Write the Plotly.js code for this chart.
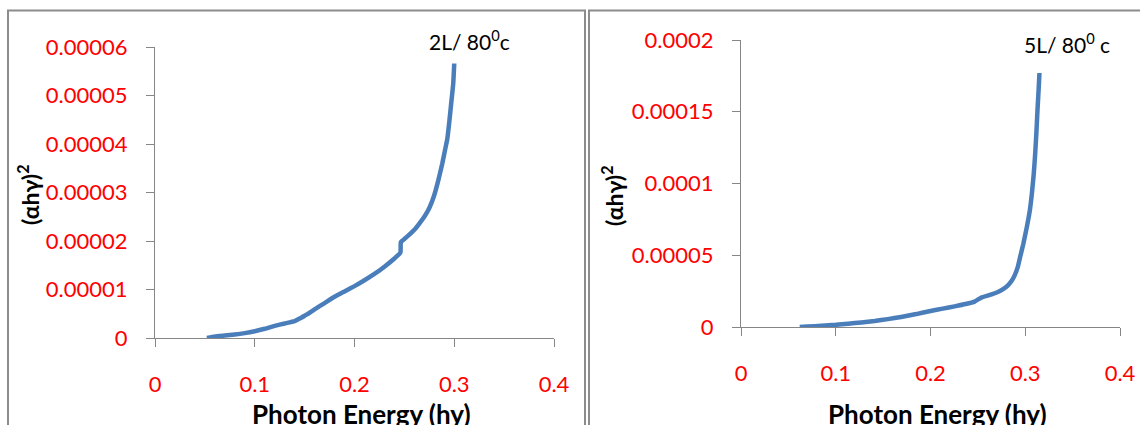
<!DOCTYPE html>
<html>
<head>
<meta charset="utf-8">
<script src="https://cdn.plot.ly/plotly-3.0.1.min.js"></script>
<style>html,body{margin:0;padding:0;background:#fff;}#chart{width:1140px;height:425px;}</style>
</head>
<body>
<div id="chart"></div>
<script>
// Left panel: 2L / 80°c
var energy2L = [0.052,0.06,0.07,0.08,0.09,0.1,0.11,0.12,0.13,0.14,0.145,0.15,0.155,0.16,0.17,0.18,0.19,0.2,0.21,0.22,0.23,0.24,0.246,0.2465,0.25,0.255,0.26,0.265,0.27,0.275,0.28,0.284,0.288,0.291,0.293,0.295,0.297,0.299,0.3];
var alpha2L = [0,0.0000003,0.0000005,0.0000007,0.000001,0.0000014,0.0000019,0.0000025,0.000003,0.0000035,0.000004,0.0000046,0.0000052,0.0000059,0.0000072,0.0000085,0.0000096,0.0000107,0.0000119,0.0000132,0.0000147,0.0000164,0.0000176,0.0000198,0.0000204,0.0000213,0.0000223,0.0000236,0.000025,0.0000268,0.0000295,0.0000325,0.000036,0.000039,0.000041,0.0000445,0.0000485,0.0000525,0.0000566];
// Right panel: 5L / 80°c
var energy5L = [0.062,0.07,0.085,0.1,0.113,0.127,0.141,0.155,0.169,0.185,0.2,0.213,0.2255,0.237,0.2466,0.2536,0.262,0.2712,0.277,0.2817,0.2855,0.2888,0.292,0.2946,0.298,0.3017,0.305,0.307,0.309,0.3105,0.3118,0.3129,0.314,0.315];
var alpha5L = [0,0.0000003,0.0000009,0.0000015,0.0000023,0.0000032,0.0000042,0.0000055,0.000007,0.000009,0.0000112,0.0000128,0.0000144,0.000016,0.0000177,0.0000205,0.0000222,0.0000244,0.0000265,0.000029,0.000032,0.000036,0.0000415,0.0000488,0.000058,0.0000698,0.000082,0.000093,0.000107,0.000121,0.000136,0.000151,0.000164,0.000177];

var xTickVals = [0,0.1,0.2,0.3,0.4];
var xTickText = ['0','0.1','0.2','0.3','0.4'];
var y1TickVals = [0,0.00001,0.00002,0.00003,0.00004,0.00005,0.00006];
var y1TickText = ['0','0.00001','0.00002','0.00003','0.00004','0.00005','0.00006'];
var y2TickVals = [0,0.00005,0.0001,0.00015,0.0002];
var y2TickText = ['0','0.00005','0.0001','0.00015','0.0002'];

var labels = ['2L/ 80<sup>0</sup>c','5L/ 80<sup>0</sup> c'];
var xTitle = 'Photon Energy (hy)';
var yTitle = '(αhγ)<sup>2</sup>';

var W = 1140, H = 425;
function px(x){return x/W;}
function py(y){return (H-y)/H;}

var lineColor = '#4A7EBB';
var axisColor = '#868686';
var fam = 'Lato, "Open Sans", sans-serif';
var tickFont = {family:fam, size:22, color:'#FF0000'};

var traces = [
  {x:energy2L, y:alpha2L, type:'scatter', mode:'lines', line:{color:lineColor, width:4.5, shape:'spline', smoothing:0.4}, xaxis:'x', yaxis:'y', showlegend:false, hoverinfo:'skip'},
  {x:energy5L, y:alpha5L, type:'scatter', mode:'lines', line:{color:lineColor, width:4.5, shape:'spline', smoothing:0.4}, xaxis:'x2', yaxis:'y2', showlegend:false, hoverinfo:'skip'}
];

function xAxis(d0,d1,anchor){
  return {domain:[px(d0),px(d1)], range:[0,0.4], anchor:anchor, showgrid:false, zeroline:false,
    showline:true, linecolor:axisColor, linewidth:1, ticks:'outside', ticklen:8, tickcolor:axisColor, tickwidth:1,
    tickvals:xTickVals, ticktext:xTickText, tickfont:tickFont, ticklabelstandoff:19, fixedrange:true};
}
function yAxis(d0,d1,anchor,vals,text,top){
  return {domain:[py(d1),py(d0)], range:[0,top], anchor:anchor, showgrid:false, zeroline:false,
    showline:true, linecolor:axisColor, linewidth:1, ticks:'outside', ticklen:8, tickcolor:axisColor, tickwidth:1,
    tickvals:vals, ticktext:text, tickfont:tickFont, ticklabelstandoff:14, fixedrange:true};
}

var layout = {
  width:W, height:H,
  margin:{l:0,r:0,t:0,b:0},
  paper_bgcolor:'#ffffff', plot_bgcolor:'#ffffff',
  showlegend:false,
  xaxis: xAxis(155,554,'y'),
  yaxis: yAxis(47,338,'x',y1TickVals,y1TickText,0.00006),
  xaxis2: xAxis(741,1120,'y2'),
  yaxis2: yAxis(40,327,'x2',y2TickVals,y2TickText,0.0002),
  shapes:[
    {type:'rect', xref:'paper', yref:'paper', x0:px(8), x1:px(585), y0:-0.2, y1:py(10.5), line:{color:'#8C8C8C', width:2}, fillcolor:'rgba(0,0,0,0)'},
    {type:'rect', xref:'paper', yref:'paper', x0:px(589), x1:1.2, y0:-0.2, y1:py(10.5), line:{color:'#8C8C8C', width:2}, fillcolor:'rgba(0,0,0,0)'}
  ],
  annotations:[
    {text:labels[0], xref:'paper', yref:'paper', x:px(469), y:py(40), xanchor:'center', yanchor:'middle', showarrow:false, font:{family:fam, size:21, color:'#000'}},
    {text:labels[1], xref:'paper', yref:'paper', x:px(1067), y:py(43), xanchor:'center', yanchor:'middle', showarrow:false, font:{family:fam, size:21, color:'#000'}},
    {text:'<b>'+xTitle+'</b>', xref:'paper', yref:'paper', x:px(361), y:py(414), xanchor:'center', yanchor:'middle', showarrow:false, font:{family:fam, size:26, color:'#000'}},
    {text:'<b>'+xTitle+'</b>', xref:'paper', yref:'paper', x:px(937), y:py(414), xanchor:'center', yanchor:'middle', showarrow:false, font:{family:fam, size:26, color:'#000'}},
    {text:'<b>'+yTitle+'</b>', xref:'paper', yref:'paper', x:px(28), y:py(195), xanchor:'center', yanchor:'middle', textangle:-90, showarrow:false, font:{family:fam, size:23, color:'#000'}},
    {text:'<b>'+yTitle+'</b>', xref:'paper', yref:'paper', x:px(612), y:py(196), xanchor:'center', yanchor:'middle', textangle:-90, showarrow:false, font:{family:fam, size:23, color:'#000'}}
  ]
};

Plotly.newPlot('chart', traces, layout, {staticPlot:true, displayModeBar:false});
</script>
</body>
</html>
